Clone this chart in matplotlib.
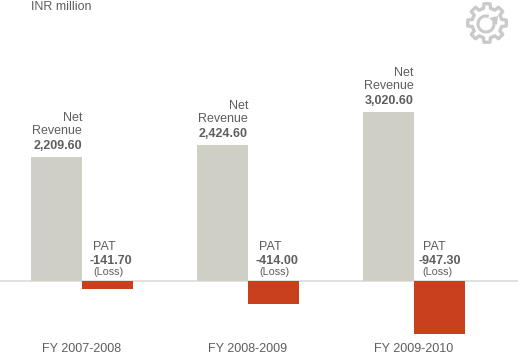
import numpy as np
import matplotlib
matplotlib.use("Agg")
import matplotlib.pyplot as plt
from matplotlib.patches import Polygon, Arc

years = ["FY 2007-2008", "FY 2008-2009", "FY 2009-2010"]
net_revenue = [2209.60, 2424.60, 3020.60]
pat = [-141.70, -414.00, -947.30]

plt.rcParams['font.family'] = ['Liberation Sans', 'DejaVu Sans']
W, H = 518, 356
BASE = 280.8
SCALE = 0.056
GREY = '#cfcfc6'; RED = '#c9401c'; TXT = '#5e5e5e'

fig = plt.figure(figsize=(W/100, H/100), dpi=100)
ax = fig.add_axes([0, 0, 1, 1])
ax.set_xlim(0, W)
ax.set_ylim(-(H-BASE)/SCALE, BASE/SCALE)
ax.axis('off')

def yv(py):
    return (BASE-py)/SCALE

ax.axhline(0, color='#dcdcdc', lw=1.2, zorder=1)
lefts = [31, 197, 362.5]
pat_text_shift = [0, 0, -2]
year_shift = [0, 0, 1]
bw = 51
FS = 9
for i, x0 in enumerate(lefts):
    rev, p = net_revenue[i], pat[i]
    ax.bar(x0, rev, bw, align='edge', color=GREY, zorder=2)
    ax.bar(x0+bw, p, bw, align='edge', color=RED, zorder=2)
    tp = BASE - rev*SCALE
    rx = x0 + bw
    ax.text(rx, yv(tp-8), f"{rev:,.2f}", ha='right', va='baseline', fontsize=FS, weight='bold', color=TXT)
    ax.text(rx, yv(tp-23), "Revenue", ha='right', va='baseline', fontsize=FS, color=TXT)
    ax.text(rx, yv(tp-36), "Net", ha='right', va='baseline', fontsize=FS, color=TXT)
    s = pat_text_shift[i]
    ax.text(x0+bw+11+s, yv(250), "PAT", ha='left', va='baseline', fontsize=FS, color=TXT)
    ax.text(x0+bw+7+s, yv(264), f"{p:.2f}", ha='left', va='baseline', fontsize=FS, weight='bold', color=TXT)
    ax.text(x0+bw+11+s, yv(275), "(Loss)", ha='left', va='baseline', fontsize=7.8, color=TXT)
    ax.text(x0+bw-0.5+year_shift[i], yv(352), years[i], ha='center', va='baseline', fontsize=FS, color=TXT)

ax.text(31, yv(10), "INR million", ha='left', va='baseline', fontsize=FS, color=TXT)

# gear icon drawn in axes pixels
iax = fig.add_axes([0, 0, 1, 1], facecolor='none')
iax.set_xlim(0, W); iax.set_ylim(H, 0); iax.axis('off')
cx, cy = 487, 23
teeth = 8
pts = []
for k in range(teeth):
    a = 2*np.pi*k/teeth - np.pi/2
    step = 2*np.pi/teeth
    for da, r in [(-0.5*step, 15), (-0.3*step, 15), (-0.2*step, 19.5), (0.2*step, 19.5), (0.3*step, 15)]:
        pts.append((cx + r*np.cos(a+da), cy + r*np.sin(a+da)))
iax.add_patch(Polygon(pts, closed=True, fill=False, ec='#cacaca', lw=2.4, joinstyle='round'))
iax.add_patch(Arc((cx-1, cy+1), 16, 16, theta1=-20, theta2=290, ec='#cacaca', lw=2.2))
iax.add_patch(Polygon([(cx+2, cy-5), (cx+11, cy-7), (cx+10, cy+2)], closed=True, fc='#cacaca', ec='none'))

fig.savefig("out.png", dpi=100)
